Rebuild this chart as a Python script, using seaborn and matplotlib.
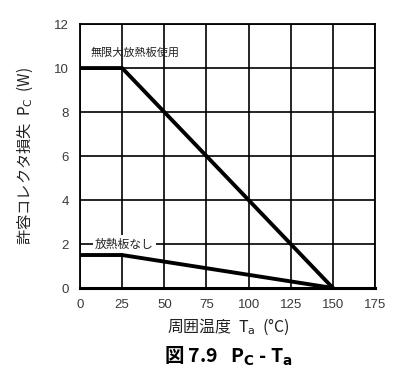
import numpy as np
import pandas as pd
import matplotlib
matplotlib.use("Agg")
import matplotlib.pyplot as plt
import seaborn as sns

# derating curves
temp_heatsink = [0, 25, 150]
pc_heatsink = [10, 10, 0]
temp_free = [0, 25, 150]
pc_free = [1.5, 1.5, 0]

x_ticks = [0, 25, 50, 75, 100, 125, 150, 175]
y_ticks = [0, 2, 4, 6, 8, 10, 12]

sns.set_style("white")
plt.rcParams['font.family'] = ['Noto Sans CJK JP', 'DejaVu Sans']

df = pd.concat([
    pd.DataFrame({"Ta": temp_heatsink, "Pc": pc_heatsink, "case": "heatsink"}),
    pd.DataFrame({"Ta": temp_free, "Pc": pc_free, "case": "free"}),
])

fig = plt.figure(figsize=(3.99, 3.76), dpi=100)
ax = fig.add_axes([0.2005, 0.234, 0.7395, 0.702])

sns.lineplot(data=df, x="Ta", y="Pc", units="case", estimator=None,
             color="black", linewidth=2.8, ax=ax, zorder=3)

ax.set_xlim(0, 175)
ax.set_ylim(0, 12)
ax.set_xticks(x_ticks)
ax.set_yticks(y_ticks)
ax.grid(True, color="black", linewidth=1.2)
for s in ax.spines.values():
    s.set_color("black")
    s.set_linewidth(1.3)
ax.spines["bottom"].set_linewidth(2.2)
ax.tick_params(length=0, pad=8, labelsize=9.5, labelcolor="#3a3a3a")
for lab in ax.get_xticklabels() + ax.get_yticklabels():
    lab.set_family(['Liberation Sans', 'DejaVu Sans'])

ax.set_xlabel("")
ax.set_ylabel("")

ax.text(6, 10.7, "無限大放熱板使用", fontsize=8, color="#222222",
        ha="left", va="center", zorder=4)
ax.text(9, 2.0, "放熱板なし", fontsize=8.5, color="#222222", ha="left",
        va="center", zorder=4,
        bbox=dict(facecolor="white", edgecolor="none", pad=1.5))

fig.text(0.063, 0.585, "許容コレクタ損失  P$_\\mathrm{C}$  (W)", rotation=90,
         ha="center", va="center", fontsize=11, color="#222222")
fig.text(0.573, 0.13, "周囲温度  T$_\\mathrm{a}$  (°C)", ha="center",
         va="center", fontsize=11.5, color="#222222")
fig.text(0.573, 0.053, "図 7.9   P$_\\mathbf{C}$ - T$_\\mathbf{a}$", ha="center",
         va="center", fontsize=14, fontweight="bold", color="black")

fig.savefig("out.png", dpi=100)
